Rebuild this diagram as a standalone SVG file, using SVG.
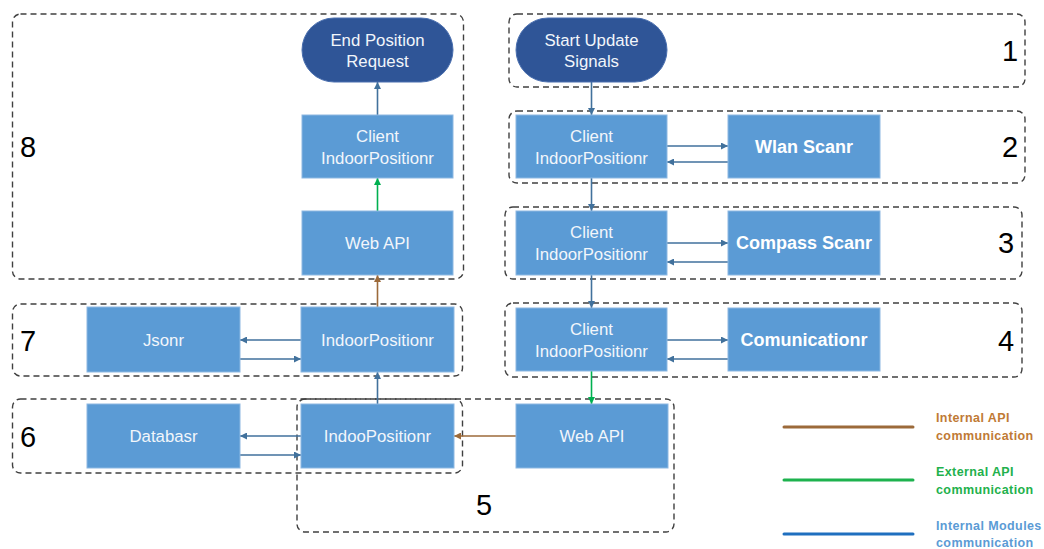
<svg xmlns="http://www.w3.org/2000/svg" width="1044" height="549" viewBox="0 0 1044 549">
  <defs>
    <marker id="arr-blue" viewBox="0 0 10 10" refX="10" refY="5" markerWidth="7" markerHeight="7" markerUnits="userSpaceOnUse" orient="auto">
      <path d="M0,0 L10,5 L0,10 z" fill="#41719C"/>
    </marker>
    <marker id="arr-green" viewBox="0 0 10 10" refX="10" refY="5" markerWidth="7" markerHeight="7" markerUnits="userSpaceOnUse" orient="auto">
      <path d="M0,0 L10,5 L0,10 z" fill="#00B050"/>
    </marker>
    <marker id="arr-brown" viewBox="0 0 10 10" refX="10" refY="5" markerWidth="7" markerHeight="7" markerUnits="userSpaceOnUse" orient="auto">
      <path d="M0,0 L10,5 L0,10 z" fill="#9C6A3A"/>
    </marker>
  </defs>
  <style>
    .zone { fill: none; stroke: #404040; stroke-width: 1.4; stroke-dasharray: 6 4; }
    .num { font-family: "Liberation Sans", Arial, sans-serif; font-size: 29px; fill: #000; text-anchor: middle; }
    .box { fill: #5B9BD5; stroke: #8DB8E2; stroke-width: 1; }
    .pill { fill: #2F5597; stroke: #4A6FAF; stroke-width: 1; }
    .lbl { font-family: "Liberation Sans", Arial, sans-serif; font-size: 16.8px; fill: #F2F6FB; text-anchor: middle; }
    .bold { font-weight: bold; font-size: 18px; fill: #FFFFFF; }
    .blue { stroke: #41719C; stroke-width: 1.6; fill: none; marker-end: url(#arr-blue); }
    .green { stroke: #00B050; stroke-width: 1.6; fill: none; marker-end: url(#arr-green); }
    .brown { stroke: #9C6A3A; stroke-width: 1.6; fill: none; marker-end: url(#arr-brown); }
    .leg { font-family: "Liberation Sans", Arial, sans-serif; font-size: 12.5px; font-weight: bold; letter-spacing: 0.4px; }
    .legline { stroke-width: 3; stroke-linecap: round; }
  </style>

  <!-- dashed zones with their numbers -->
  <g id="zones">
    <rect class="zone" x="12.5" y="14" width="451" height="265" rx="8"/>
    <rect class="zone" x="509" y="14" width="516" height="73" rx="8"/>
    <rect class="zone" x="509" y="111" width="516" height="72" rx="8"/>
    <rect class="zone" x="505" y="207" width="517" height="72" rx="8"/>
    <rect class="zone" x="505" y="303" width="517" height="74" rx="8"/>
    <rect class="zone" x="12.5" y="304" width="450" height="72" rx="8"/>
    <rect class="zone" x="12.5" y="399" width="450" height="74" rx="8"/>
    <rect class="zone" x="297" y="399" width="377" height="133" rx="8"/>
    <text class="num" x="28" y="157">8</text>
    <text class="num" x="1010" y="61">1</text>
    <text class="num" x="1010" y="157">2</text>
    <text class="num" x="1006" y="253">3</text>
    <text class="num" x="1006" y="351">4</text>
    <text class="num" x="28" y="351">7</text>
    <text class="num" x="28" y="447">6</text>
    <text class="num" x="484" y="515">5</text>
  </g>

  <!-- connectors -->
  <g id="connectors">
    <line class="blue" x1="591.5" y1="82" x2="591.5" y2="115"/>
    <line class="blue" x1="591.5" y1="178" x2="591.5" y2="211"/>
    <line class="blue" x1="591.5" y1="275" x2="591.5" y2="308"/>
    <line class="green" x1="591.5" y1="371" x2="591.5" y2="404"/>
    <line class="brown" x1="516" y1="436" x2="454" y2="436"/>
    <line class="blue" x1="377.5" y1="404" x2="377.5" y2="372"/>
    <line class="brown" x1="377.5" y1="307" x2="377.5" y2="275"/>
    <line class="green" x1="377.5" y1="211" x2="377.5" y2="178"/>
    <line class="blue" x1="377.5" y1="115" x2="377.5" y2="82"/>
    <line class="blue" x1="667" y1="146" x2="728" y2="146"/>
    <line class="blue" x1="728" y1="162" x2="667" y2="162"/>
    <line class="blue" x1="667" y1="243" x2="728" y2="243"/>
    <line class="blue" x1="728" y1="262" x2="667" y2="262"/>
    <line class="blue" x1="667" y1="340" x2="728" y2="340"/>
    <line class="blue" x1="728" y1="359" x2="667" y2="359"/>
    <line class="blue" x1="301" y1="340" x2="240" y2="340"/>
    <line class="blue" x1="240" y1="359" x2="301" y2="359"/>
    <line class="blue" x1="301" y1="436" x2="240" y2="436"/>
    <line class="blue" x1="240" y1="455" x2="301" y2="455"/>
  </g>

  <g id="end-position-request">
    <rect class="pill" x="302" y="18" width="151" height="64" rx="32"/>
    <text class="lbl" x="377.5" y="46">End Position</text>
    <text class="lbl" x="377.5" y="67">Request</text>
  </g>
  <g id="client-8">
    <rect class="box" x="302" y="115" width="151" height="63"/>
    <text class="lbl" x="377.5" y="142">Client</text>
    <text class="lbl" x="377.5" y="164">IndoorPositionr</text>
  </g>
  <g id="webapi-8">
    <rect class="box" x="302" y="211" width="151" height="64"/>
    <text class="lbl" x="377.5" y="249">Web API</text>
  </g>

  <g id="start-update-signals">
    <rect class="pill" x="516" y="18" width="151" height="64" rx="32"/>
    <text class="lbl" x="591.5" y="46">Start Update</text>
    <text class="lbl" x="591.5" y="67">Signals</text>
  </g>
  <g id="client-2">
    <rect class="box" x="516" y="115" width="151" height="63"/>
    <text class="lbl" x="591.5" y="142">Client</text>
    <text class="lbl" x="591.5" y="164">IndoorPositionr</text>
  </g>
  <g id="wlan-scanr">
    <rect class="box" x="728" y="115" width="152" height="63"/>
    <text class="lbl bold" x="804" y="153">Wlan Scanr</text>
  </g>
  <g id="client-3">
    <rect class="box" x="516" y="211" width="151" height="64"/>
    <text class="lbl" x="591.5" y="238">Client</text>
    <text class="lbl" x="591.5" y="260">IndoorPositionr</text>
  </g>
  <g id="compass-scanr">
    <rect class="box" x="728" y="211" width="152" height="64"/>
    <text class="lbl bold" x="804" y="249">Compass Scanr</text>
  </g>
  <g id="client-4">
    <rect class="box" x="516" y="308" width="151" height="63"/>
    <text class="lbl" x="591.5" y="335">Client</text>
    <text class="lbl" x="591.5" y="357">IndoorPositionr</text>
  </g>
  <g id="comunicationr">
    <rect class="box" x="728" y="308" width="152" height="63"/>
    <text class="lbl bold" x="804" y="346">Comunicationr</text>
  </g>

  <g id="jsonr">
    <rect class="box" x="87" y="307" width="153" height="65"/>
    <text class="lbl" x="163.5" y="346">Jsonr</text>
  </g>
  <g id="indoorpositionr-7">
    <rect class="box" x="301" y="307" width="153" height="65"/>
    <text class="lbl" x="377.5" y="346">IndoorPositionr</text>
  </g>
  <g id="databasr">
    <rect class="box" x="87" y="404" width="153" height="64"/>
    <text class="lbl" x="163.5" y="442">Databasr</text>
  </g>
  <g id="indoopositionr-5">
    <rect class="box" x="301" y="404" width="153" height="64"/>
    <text class="lbl" x="377.5" y="442">IndooPositionr</text>
  </g>
  <g id="webapi-5">
    <rect class="box" x="516" y="404" width="152" height="64"/>
    <text class="lbl" x="592" y="442">Web API</text>
  </g>

  <!-- legend -->
  <g id="legend">
    <line class="legline" x1="784" y1="427" x2="913" y2="427" stroke="#9C6A3A"/>
    <text class="leg" x="936" y="422" fill="#C07A35">Internal API</text>
    <text class="leg" x="936" y="440" fill="#C07A35">communication</text>
    <line class="legline" x1="784" y1="480" x2="913" y2="480" stroke="#1DB24E"/>
    <text class="leg" x="936" y="476" fill="#22B14C">External API</text>
    <text class="leg" x="936" y="494" fill="#22B14C">communication</text>
    <line class="legline" x1="784" y1="534" x2="913" y2="534" stroke="#1F6FBF"/>
    <text class="leg" x="936" y="530" fill="#5B9BD5">Internal Modules</text>
    <text class="leg" x="936" y="547" fill="#5B9BD5">communication</text>
  </g>
</svg>
